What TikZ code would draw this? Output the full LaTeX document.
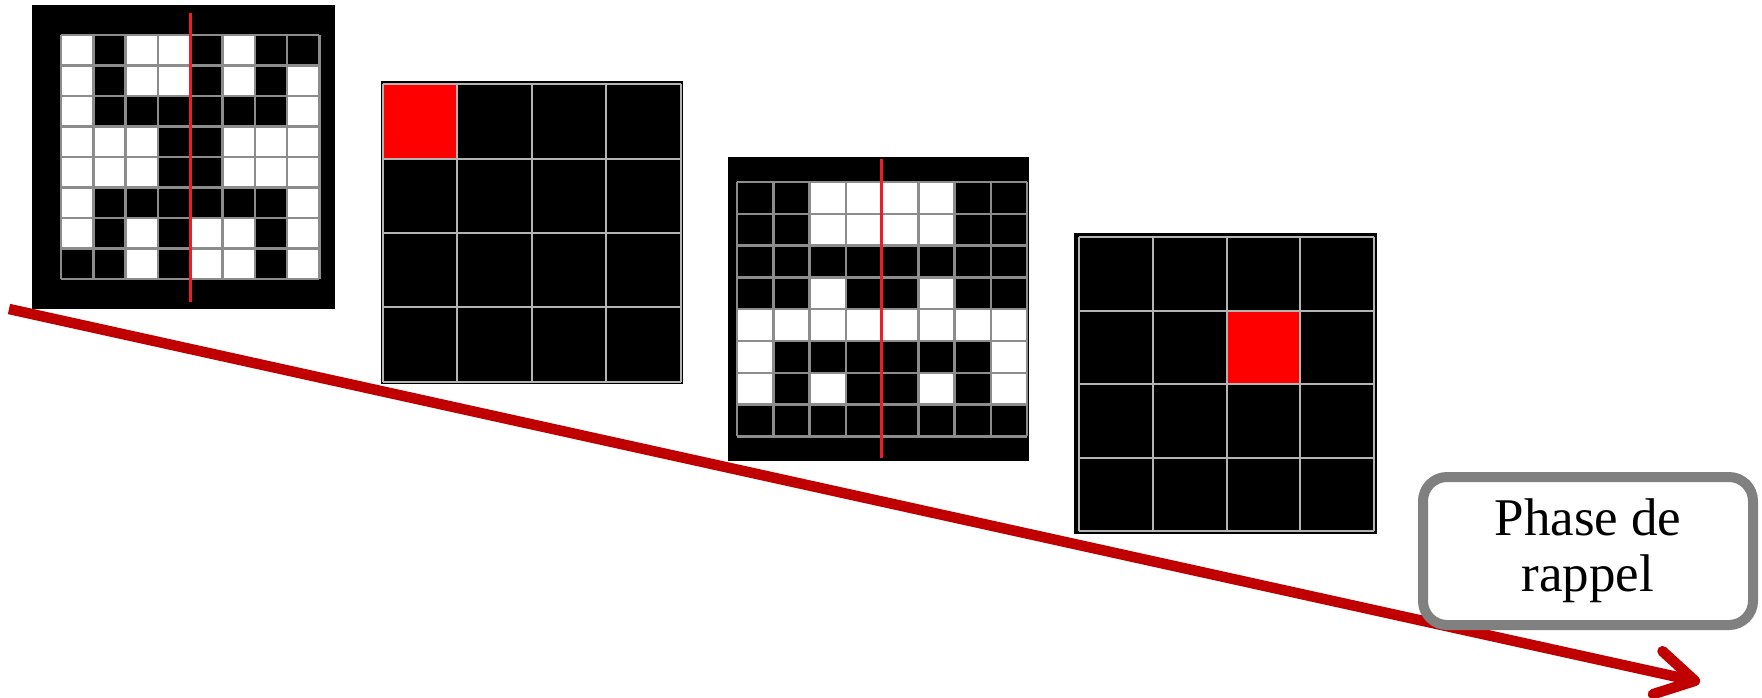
\documentclass[tikz,border=0pt]{standalone}
\usepackage{fontspec}
\setmainfont{Liberation Serif}
\usetikzlibrary{arrows.meta}
\definecolor{Arrow}{HTML}{C00000}
\definecolor{Cut}{HTML}{EE1C25}
\definecolor{Hit}{HTML}{FF0000}
\definecolor{Frame}{HTML}{808080}
\definecolor{GridA}{HTML}{8C8C8C}
\definecolor{GridB}{HTML}{B4B4B4}

\begin{document}
\begin{tikzpicture}[x=1pt,y=-1pt,
 bg/.style={fill=black},
 pix/.style={fill=white},
 hit/.style={fill=Hit},
 gridA/.style={draw=GridA,line width=2.5},
 gridB/.style={draw=GridB,line width=2},
 cut/.style={draw=Cut,line width=3},
 phase/.style={draw=Frame,line width=10,rounded corners=24,fill=white,align=center,
   font=\fontsize{53}{56}\selectfont,minimum width=330,minimum height=148,inner sep=0pt},
 arrow/.style={draw=Arrow,line width=10.5,-{Straight Barb[length=38,width=44,round]}}]
\useasboundingbox (0,0) rectangle (1762,698);

% first pattern, 8x8
\fill[bg] (31.5,5.5) rectangle (335,309);
\foreach \row [count=\j from 0] in {{0,1,0,0,1,0,1,1},{0,1,0,0,1,0,1,0},{0,1,1,1,1,1,1,0},
  {0,0,0,1,1,0,0,0},{0,0,0,1,1,0,0,0},{0,1,1,1,1,1,1,0},{0,1,0,1,0,0,1,0},{1,1,0,1,0,0,1,0}}
  \foreach \c [count=\i from 0] in \row
    {\ifnum\c=0 \fill[pix] ({61+\i*32.3},{35+\j*30.5}) rectangle ++(32.3,30.5);\fi}
\foreach \k in {0,...,8}
  {\draw[gridA] ({61+\k*32.3},35) -- ++(0,244);
   \draw[gridA] (61,{35+\k*30.5}) -- ++(258.4,0);}
\draw[cut] (190,13) -- (190,302);

% first map, 4x4
\fill[bg] (380.5,81.5) rectangle (683,384);
\fill[hit] (382.5,84.5) rectangle ++(74.6,74.25);
\foreach \k in {0,...,4}
  {\draw[gridB] ({382.5+\k*74.6},84.5) -- ++(0,297);
   \draw[gridB] (382.5,{84.5+\k*74.25}) -- ++(298.4,0);}

% second pattern, 8x8
\fill[bg] (728,157) rectangle (1029,461);
\foreach \row [count=\j from 0] in {{1,1,0,0,0,0,1,1},{1,1,0,0,0,0,1,1},{1,1,1,1,1,1,1,1},
  {1,1,0,1,1,0,1,1},{0,0,0,0,0,0,0,0},{0,1,1,1,1,1,1,0},{0,1,0,1,1,0,1,0},{1,1,1,1,1,1,1,1}}
  \foreach \c [count=\i from 0] in \row
    {\ifnum\c=0 \fill[pix] ({737+\i*36.25},{182+\j*31.8}) rectangle ++(36.25,31.8);\fi}
\foreach \k in {0,...,8}
  {\draw[gridA] ({737+\k*36.25},182) -- ++(0,254.4);
   \draw[gridA] (737,{182+\k*31.8}) -- ++(290,0);}
\draw[cut] (881,159) -- (881,458);

% second map, 4x4
\fill[bg] (1074,233) rectangle (1377,534);
\fill[hit] ({1079+2*73.75},{237+73.5}) rectangle ++(73.75,73.5);
\foreach \k in {0,...,4}
  {\draw[gridB] ({1079+\k*73.75},237) -- ++(0,294);
   \draw[gridB] (1079,{237+\k*73.5}) -- ++(295,0);}

% time arrow
\coordinate (start) at (9,309);
\coordinate (stop) at (1700,682);
\draw[arrow] (start) -- (stop);

\node[phase] (rappel) at (1588,551) {Phase de\\rappel};
\end{tikzpicture}
\end{document}
